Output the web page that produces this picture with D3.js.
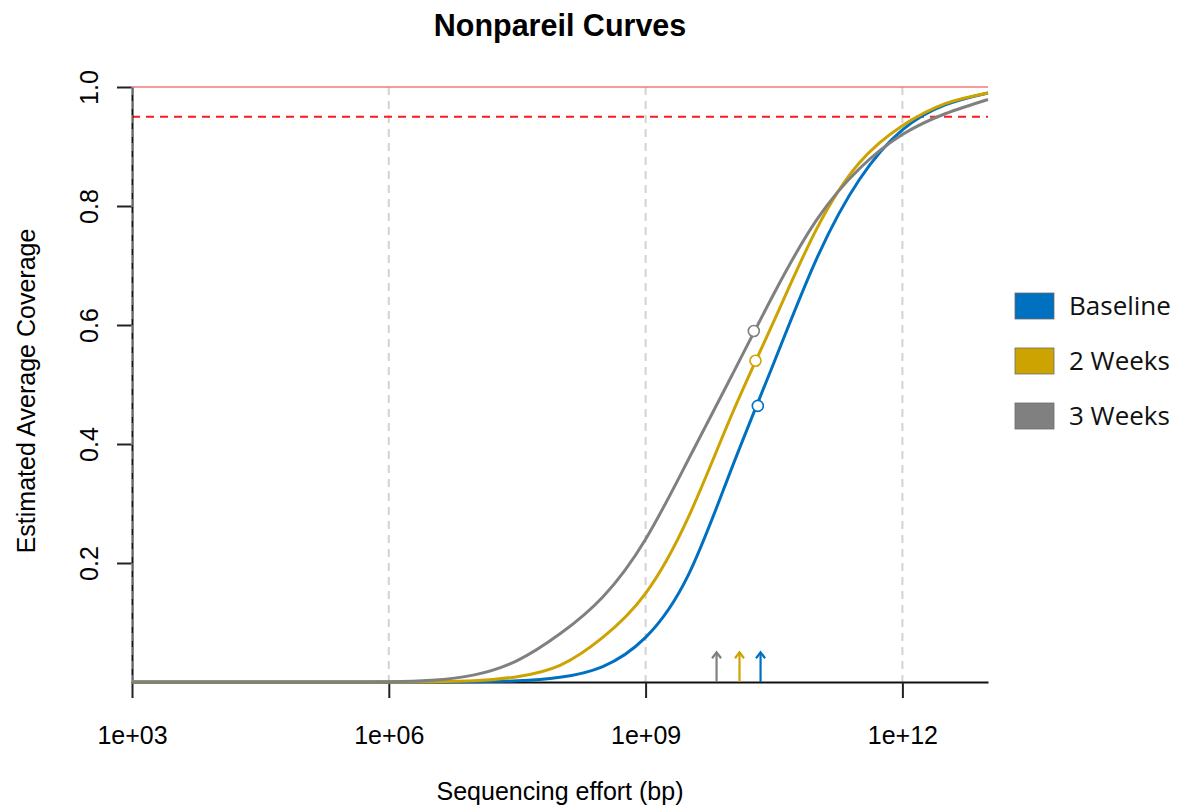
<!DOCTYPE html>
<html><head><meta charset="utf-8">
<script src="https://cdn.jsdelivr.net/npm/d3@7"></script>
<style>body{margin:0;background:#fff}svg{display:block}</style>
</head><body>
<svg id="chart" width="1187" height="807"></svg>
<script>
// ---- data ----
const effortLog10 = [3,3.5,4,4.5,5,5.5,6,6.5,7,7.5,8,8.5,9,9.5,10,10.5,11,11.5,12,12.5,13];
const seriesNames = ["Baseline","2 Weeks","3 Weeks"];
const seriesColors = ["#0070C0","#CCA300","#808080"];
const coverageBaseline = [0,0,0,0,0,0,0,0,0.0005,0.002,0.008,0.026,0.075,0.18,0.357,0.537,0.712,0.845,0.928,0.97,0.99];
const coverage2Weeks   = [0,0,0,0,0,0,0,0.0005,0.002,0.009,0.028,0.075,0.149,0.277,0.447,0.607,0.762,0.873,0.935,0.972,0.99];
const coverage3Weeks   = [0,0,0,0,0,0,0.0005,0.003,0.012,0.036,0.081,0.143,0.24,0.374,0.513,0.653,0.777,0.863,0.92,0.955,0.979];
const datasetEffortLog10 = [10.311,10.284,10.264];   // open circles
const datasetCoverage    = [0.464,0.54,0.59];
const arrowEffortLog10   = [10.343,10.097,9.829];    // arrows at bottom
const xTickLog10 = [3,6,9,12];
const xTickLabels = ["1e+03","1e+06","1e+09","1e+12"];
const yTicks = [0.2,0.4,0.6,0.8,1.0];
const yTickLabels = ["0.2","0.4","0.6","0.8","1.0"];
const targetLines = [1.0,0.95];
const titleText = "Nonpareil Curves";
const xTitle = "Sequencing effort (bp)";
const yTitle = "Estimated Average Coverage";

// ---- layout ----
const svg = d3.select("#chart");
const x = d3.scaleLog().domain([1e3,1e13]).range([132,988]);
const y = d3.scaleLinear().domain([0,1]).range([682,87]);
const fontR = "'Liberation Sans', Arial, Helvetica, sans-serif";

// title
svg.append("text").attr("x",560).attr("y",36).attr("text-anchor","middle")
  .attr("font-family",fontR).attr("font-weight","bold").attr("font-size",30.5).text(titleText);

// vertical grid (dashed gray)
svg.append("g").selectAll("line").data(xTickLog10.slice(1)).join("line")
  .attr("x1",d=>x(Math.pow(10,d))).attr("x2",d=>x(Math.pow(10,d)))
  .attr("y1",y(1)).attr("y2",y(0))
  .attr("stroke","#d3d3d3").attr("stroke-width",2).attr("stroke-dasharray","8,6");

// target lines
svg.append("line").attr("x1",x(1e3)).attr("x2",x(1e13)).attr("y1",y(targetLines[0])).attr("y2",y(targetLines[0]))
  .attr("stroke","#f27a7a").attr("stroke-width",1.5);
svg.append("line").attr("x1",x(1e3)).attr("x2",x(1e13)).attr("y1",y(targetLines[1])).attr("y2",y(targetLines[1]))
  .attr("stroke","#ff1a1a").attr("stroke-width",2).attr("stroke-dasharray","8,6");

// x axis
const xAxis = d3.axisBottom(x).tickValues(xTickLog10.map(d=>Math.pow(10,d)))
  .tickFormat((d,i)=>xTickLabels[i]).tickSize(16).tickSizeOuter(0);
const gx = svg.append("g").attr("transform","translate(0,682)").call(xAxis);
gx.select(".domain").attr("stroke","#111").attr("stroke-width",2);
gx.selectAll(".tick line").attr("stroke","#222").attr("stroke-width",2);
gx.selectAll(".tick text").attr("font-family",fontR).attr("font-size",25).attr("fill","#000").attr("dy","1.7em");

// y axis
const yAxis = d3.axisLeft(y).tickValues(yTicks).tickFormat((d,i)=>yTickLabels[i]).tickSize(15).tickSizeOuter(0);
const gy = svg.append("g").attr("transform","translate(132,0)").call(yAxis);
gy.select(".domain").attr("stroke","#111").attr("stroke-width",2);
gy.selectAll(".tick line").attr("stroke","#222").attr("stroke-width",2);
gy.selectAll(".tick text").attr("font-family",fontR).attr("font-size",25).attr("fill","#000")
  .attr("text-anchor","middle").attr("x",0).attr("dy",0)
  .attr("transform","translate(-42,0) rotate(-90)").attr("y",8);
// dashed grey overlay on the left axis (grid at 1e3)
svg.append("line").attr("x1",132).attr("x2",132).attr("y1",y(1)).attr("y2",y(0))
  .attr("stroke","#bdbdbd").attr("stroke-width",1).attr("stroke-dasharray","8,6");

// axis titles
svg.append("text").attr("x",560).attr("y",800).attr("text-anchor","middle")
  .attr("font-family",fontR).attr("font-size",25).text(xTitle);
svg.append("text").attr("transform","translate(35,391) rotate(-90)").attr("text-anchor","middle")
  .attr("font-family",fontR).attr("font-size",25).text(yTitle);

// curves
const allSeries = [coverageBaseline, coverage2Weeks, coverage3Weeks];
const line = d3.line().x(d=>x(Math.pow(10,d[0]))).y(d=>y(Math.max(0,d[1]))).curve(d3.curveNatural);
allSeries.forEach((vals,i)=>{
  svg.append("path").datum(effortLog10.map((e,j)=>[e,vals[j]]))
    .attr("d",line).attr("fill","none").attr("stroke",seriesColors[i]).attr("stroke-width",3);
});

// arrows
arrowEffortLog10.forEach((e,i)=>{
  const ax = x(Math.pow(10,e));
  const g = svg.append("g").attr("stroke",seriesColors[i]).attr("stroke-width",2.2).attr("fill","none");
  g.append("line").attr("x1",ax).attr("x2",ax).attr("y1",y(0)).attr("y2",y(0.05));
  g.append("path").attr("d",`M${ax-4.5},${y(0.05)+6}L${ax},${y(0.05)}L${ax+4.5},${y(0.05)+6}`);
});

// dataset points
datasetEffortLog10.forEach((e,i)=>{
  svg.append("circle").attr("cx",x(Math.pow(10,e))).attr("cy",y(datasetCoverage[i])).attr("r",5.5)
    .attr("fill","#fff").attr("stroke",seriesColors[i]).attr("stroke-width",1.6);
});

// legend
const lg = svg.append("g");
seriesNames.forEach((n,i)=>{
  const yy = 306 + i*55;
  lg.append("rect").attr("x",1015).attr("y",yy-13).attr("width",39).attr("height",26)
    .attr("fill",seriesColors[i]).attr("stroke","#6b6b6b").attr("stroke-width",0.8);
  lg.append("text").attr("x",1069).attr("y",yy).attr("dy","0.36em")
    .attr("font-family","'Open Sans','Noto Sans',sans-serif").attr("font-size",26).attr("fill","#111").text(n);
});
</script>
</body></html>
